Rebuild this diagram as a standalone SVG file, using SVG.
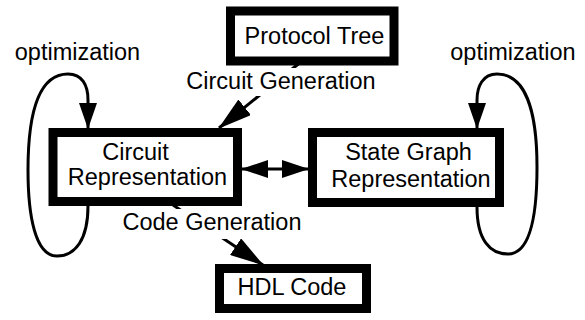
<svg xmlns="http://www.w3.org/2000/svg" width="585" height="320" viewBox="0 0 585 320">
<style>
.box{fill:#fff;stroke:#000;stroke-width:9}
.t{font-family:"Liberation Sans",Arial,sans-serif;font-size:23.5px;fill:#000;text-anchor:middle}
.ln{fill:none;stroke:#000;stroke-width:3}
</style>
<defs>
<marker id="big" markerUnits="userSpaceOnUse" markerWidth="34" markerHeight="20" viewBox="0 0 34 20" refX="33" refY="10" orient="auto"><path d="M0,0 L34,10 L0,20 z" fill="#000"/></marker>
<marker id="mid" markerUnits="userSpaceOnUse" markerWidth="27" markerHeight="18" viewBox="0 0 27 18" refX="26" refY="9" orient="auto-start-reverse"><path d="M0,0 L27,9 L0,18 z" fill="#000"/></marker>
<marker id="loop" markerUnits="userSpaceOnUse" markerWidth="26" markerHeight="18" viewBox="0 0 26 18" refX="25" refY="9" orient="auto"><path d="M0,0 L26,9 L0,18 z" fill="#000"/></marker>
</defs>
<g id="connectors">
<path class="ln" d="M302,61 L219,128" marker-end="url(#big)"/>
<path class="ln" d="M173,205 L263,265" marker-end="url(#big)"/>
<path class="ln" d="M242,169 L308,169" marker-start="url(#mid)" marker-end="url(#mid)"/>
<path class="ln" d="M88,206 C88,240 75,256 57,256 C35,256 28,215 28,170 C28,110 40,74 68,74 C82,74 88,85 88,100 L88,128" marker-end="url(#loop)"/>
<path class="ln" d="M477,207 C477,240 490,254 508,254 C530,254 537,215 537,167 C537,110 525,74 497,74 C483,74 477,86 477,100 L477,128" marker-end="url(#loop)"/>
</g>
<g id="label-circuit-generation">
<rect x="184" y="68" width="196" height="28" fill="#fff"/>
<text class="t" x="281" y="89">Circuit Generation</text>
</g>
<g id="label-code-generation">
<rect x="119" y="209" width="188" height="30" fill="#fff"/>
<text class="t" x="212" y="230">Code Generation</text>
</g>
<g id="label-opt-left"><text class="t" x="77.5" y="60">optimization</text></g>
<g id="label-opt-right"><text class="t" x="513" y="60">optimization</text></g>
<g id="protocol-tree">
<rect class="box" x="230.5" y="11" width="163.5" height="50"/>
<text class="t" x="314.5" y="44">Protocol Tree</text>
</g>
<g id="circuit-representation">
<rect class="box" x="53" y="132.5" width="184.5" height="69"/>
<text class="t" x="135.5" y="160">Circuit</text>
<text class="t" x="147.5" y="185">Representation</text>
</g>
<g id="state-graph-representation">
<rect class="box" x="312.5" y="132.5" width="187" height="70"/>
<text class="t" x="408.5" y="160">State Graph</text>
<text class="t" x="411" y="187">Representation</text>
</g>
<g id="hdl-code">
<rect class="box" x="219.5" y="268.5" width="147" height="40"/>
<text class="t" x="292" y="295">HDL Code</text>
</g>
</svg>
